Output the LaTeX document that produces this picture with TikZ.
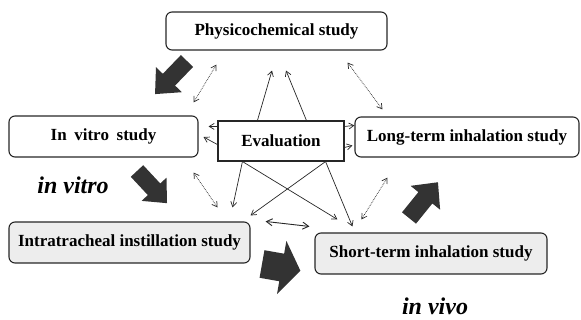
\documentclass[tikz,border=0pt]{standalone}
\usepackage{fontspec}
\setmainfont{Liberation Serif}
\usetikzlibrary{arrows.meta,calc}
\newcommand{\BlockArrow}[7]{%
  \fill[blockarrow, shift={(#1,#2)}, rotate=#3]
    (0,-#5) -- (#4-#7,-#5) -- (#4-#7,-#6) -- (#4,0) -- (#4-#7,#6) -- (#4-#7,#5) -- (0,#5) -- cycle;}
\tikzset{
  box/.style={draw=black!85, line width=1.1pt, rounded corners=6pt, inner sep=0pt,
    font=\fontsize{17}{20}\selectfont\bfseries},
  shaded/.style={fill=black!7},
  evalbox/.style={draw=black!85, line width=1.1pt, inner sep=0pt, fill=white,
    font=\fontsize{17}{20}\selectfont\bfseries},
  biglabel/.style={font=\fontsize{24}{26}\selectfont\bfseries\itshape, inner sep=0pt, anchor=base},
  link/.style={line width=0.7pt, draw=black!85, -{Straight Barb[length=5pt,width=6pt]}},
  duo/.style={line width=0.75pt, draw=black!80, densely dotted,
    {Straight Barb[length=5pt,width=6pt]}-{Straight Barb[length=5pt,width=6pt]}},
  duosolid/.style={line width=0.9pt, draw=black!85,
    {Straight Barb[length=6pt,width=7pt]}-{Straight Barb[length=6pt,width=7pt]}},
  blockarrow/.style={fill=black!80},
}
\begin{document}
\begin{tikzpicture}[x=1pt,y=-1pt]
\path[use as bounding box] (0,0) rectangle (581,320);

% block arrows
\BlockArrow{187}{61}{226}{46}{8.5}{18}{20}
\BlockArrow{137}{171}{-47}{44}{8.5}{17}{19}
\BlockArrow{262}{264}{-10}{39}{14}{27}{19}
\BlockArrow{409}{218}{51}{46}{9}{19}{20}

% boxes
\node[box, minimum width=221pt, minimum height=38pt] (phys) at (276.5,31) {Physicochemical study};
\node[box, minimum width=189pt, minimum height=41pt] (invitro) at (103.5,136.5) {In\hspace{0.45em}vitro\hspace{0.45em}study};
\node[evalbox, minimum width=126pt, minimum height=40pt] (eval) at (281,141) {Evaluation};
\node[box, minimum width=224pt, minimum height=40pt] (long) at (467,137) {Long-term inhalation study};
\node[box, shaded, minimum width=241pt, minimum height=41pt] (intra) at (129.5,242.5) {Intratracheal instillation study};
\node[box, shaded, minimum width=232pt, minimum height=41pt] (short) at (431,253.5) {Short-term inhalation study};

% labels
\node[biglabel] (lblvitro) at (73,194) {in vitro};
\node[biglabel] (lblvivo) at (435,315) {in vivo};

% dotted double arrows
\draw[duo] ($(phys.south west)+(51,14)$) -- ($(invitro.north east)+(-5,-13)$);
\draw[duo] ($(phys.south east)+(-40,12)$) -- ($(long.north west)+(28,-7)$);
\draw[duo] ($(invitro.south east)+(-5,15)$) -- ($(intra.north east)+(-33,-14)$);
\draw[duo] ($(long.south west)+(33,20)$) -- ($(short.north west)+(47,-13)$);

% evaluation arrows
\draw[link] ($(eval.north west)+(40,0)$) -- ($(phys.south)+(-4.5,20)$);
\draw[link] ($(eval.north west)+(89,0)$) -- ($(phys.south)+(9.5,20)$);
\draw[link] ($(eval.north west)+(0,6)$) -- ($(invitro.north east)+(10,11)$);
\draw[link] ($(eval.south west)+(0,-17)$) -- ($(invitro.east)+(5,0.5)$);
\draw[link] ($(eval.north east)+(0,6)$) -- ($(long.north west)+(0,9)$);
\draw[link] ($(eval.north east)+(0,27)$) -- ($(long.south west)+(-2,-12)$);
\draw[link] ($(eval.south west)+(25,0)$) -- ($(intra.north east)+(-18,-14)$);
\draw[link] ($(eval.south east)+(-19,0)$) -- ($(intra.north east)+(0,-6)$);
\draw[link] ($(eval.south west)+(25,0)$) -- ($(short.north west)+(23,-13)$);
\draw[link] ($(eval.south east)+(-19,0)$) -- ($(short.north west)+(38,-6)$);

% solid double arrow
\draw[duosolid] ($(intra.north east)+(15,0)$) -- ($(short.north west)+(-5,-6)$);
\end{tikzpicture}
\end{document}
